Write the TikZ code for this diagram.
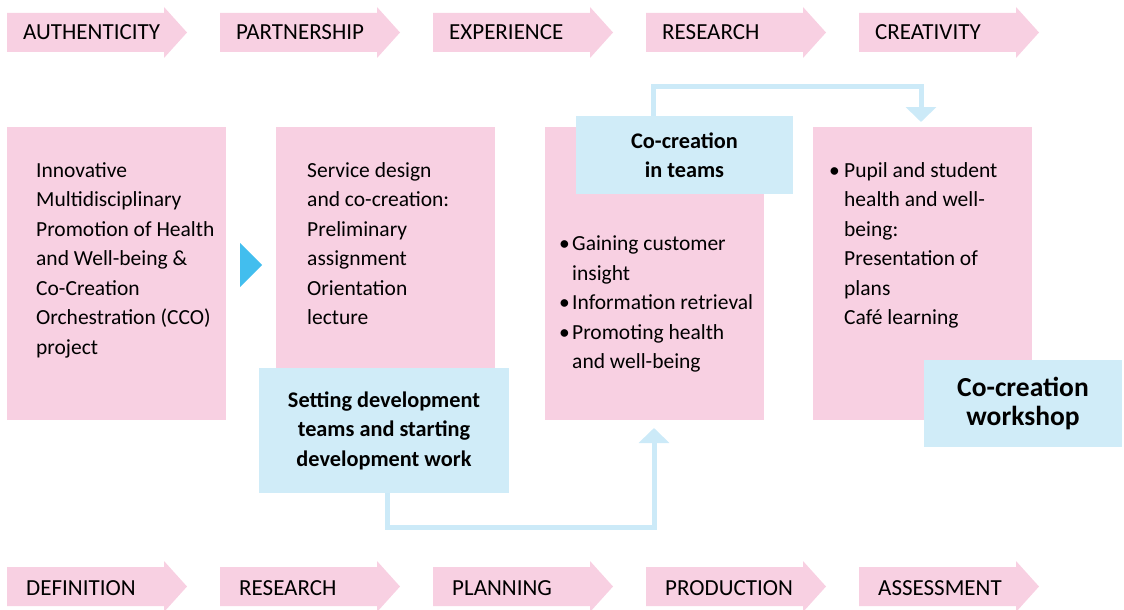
\documentclass[tikz,border=0pt]{standalone}
\usepackage{fontspec}
\setmainfont{Carlito}
\usetikzlibrary{arrows.meta}
\definecolor{stagepink}{RGB}{248,208,226}
\definecolor{teamblue}{RGB}{208,236,248}
\definecolor{linkblue}{RGB}{204,234,248}
\definecolor{flowcyan}{RGB}{66,190,238}
\tikzset{
  phase/.style={anchor=west, inner sep=0, font=\fontsize{23}{26}\selectfont},
  stagebox/.style={fill=stagepink, anchor=north west, inner sep=0,
    minimum width=219, minimum height=293},
  boxtext/.style={anchor=north west, inner sep=0, align=left,
    font=\fontsize{21.5}{29.5}\selectfont},
  teambox/.style={fill=teamblue, inner sep=0, align=center,
    font=\fontsize{22.3}{29.5}\selectfont\bfseries},
  link/.style={draw=linkblue, line width=5pt,
    -{Triangle[width=30pt,length=15pt]}}
}
\newcommand{\bul}[1]{\makebox[#1][l]{•}}
\begin{document}
\begin{tikzpicture}[x=1pt,y=-1pt]
  \useasboundingbox (0,0) rectangle (1124,610);
  % phase arrows, top row and bottom row
  \foreach \lbl [count=\i from 0] in {AUTHENTICITY,PARTNERSHIP,EXPERIENCE,RESEARCH,CREATIVITY} {
    \fill[stagepink] (7+213*\i,13) -- ++(157,0) -- ++(0,-6) -- ++(23,25.5)
      -- ++(-23,25.5) -- ++(0,-6) -- ++(-157,0) -- cycle;
    \node[phase] (top\i) at (23+213*\i,32) {\lbl};
  }
  \foreach \lbl [count=\i from 0] in {DEFINITION,RESEARCH,PLANNING,PRODUCTION,ASSESSMENT} {
    \fill[stagepink] (7+213*\i,567) -- ++(157,0) -- ++(0,-6) -- ++(23,25.5)
      -- ++(-23,25.5) -- ++(0,-6) -- ++(-157,0) -- cycle;
    \node[phase] (bot\i) at (26+213*\i,588) {\lbl};
  }
  % stage boxes
  \node[stagebox] (idea) at (7,127) {};
  \node[stagebox] (design) at (276,127) {};
  \node[stagebox] (insight) at (545,127) {};
  \node[stagebox] (present) at (813,127) {};
  \fill[flowcyan] (240,243) -- (262,265) -- (240,287) -- cycle;
  \node[boxtext] (ideatxt) at (36,162) {Innovative\\Multidisciplinary\\Promotion of Health\\and Well-being \&\\Co-Creation\\Orchestration (CCO)\\project};
  \node[boxtext] (designtxt) at (307,162) {Service design\\and co-creation:\\Preliminary\\assignment\\Orientation\\lecture};
  \node[boxtext] (insighttxt) at (559,236) {\bul{13pt}Gaining customer\\\hspace*{13pt}insight\\\bul{13pt}Information retrieval\\\bul{13pt}Promoting health\\\hspace*{13pt}and well-being};
  \node[boxtext] (presenttxt) at (829,162) {\bul{15pt}Pupil and student\\\hspace*{15pt}health and well-\\\hspace*{15pt}being:\\\hspace*{15pt}Presentation of\\\hspace*{15pt}plans\\\hspace*{15pt}Café learning};
  % loops between the team boxes
  \coordinate (loopin) at (921,122);
  \coordinate (loopup) at (654,428);
  \node[teambox, minimum width=217, minimum height=78] (teams) at (684.5,155) {Co-creation\\in teams};
  \draw[link] ([xshift=-31.5pt]teams.north) -- ++(0,-29) -| (loopin);
  \node[teambox, minimum width=250, minimum height=125] (setting) at (384,430.5) {Setting development\\teams and starting\\development work};
  \draw[link] ([xshift=3pt]setting.south) -- ++(0,34) -| (loopup);
  \node[teambox, minimum width=198, minimum height=87, font=\fontsize{27.5}{29}\selectfont\bfseries] (workshop) at (1023,403.5) {Co-creation\\workshop};
\end{tikzpicture}
\end{document}
